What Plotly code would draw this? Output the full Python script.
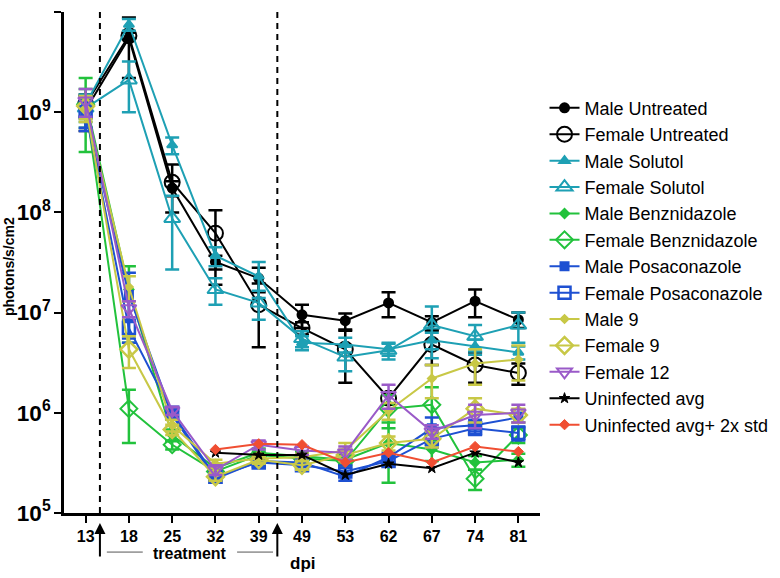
import plotly.graph_objects as go

dpi = ["13", "18", "25", "32", "39", "49", "53", "62", "67", "74", "81"]

male_untreated = [1.05e9, 5.5e9, 1.75e8, 3.2e7, 2.2e7, 9.5e6, 8.3e6, 1.25e7, 8.0e6, 1.3e7, 8.5e6]
male_untreated_sem = [4e8, 3.3e9, 3e7, 5e6, 6e6, 2.5e6, 1.5e6, 3.5e6, 1.2e6, 4e6, 1.5e6]
female_untreated = [1.2e9, 5.8e9, 2.0e8, 6.2e7, 1.2e7, 7e6, 4.3e6, 1.4e6, 4.8e6, 3.0e6, 2.5e6]
female_untreated_sem = [3e8, 4e8, 1e8, 4.3e7, 7.5e6, 1e6, 2.3e6, 2e5, 1.8e6, 1e6, 6e5]
male_solutol = [1.2e9, 7.5e9, 4.7e8, 3.7e7, 2.3e7, 5.0e6, 4.8e6, 4.3e6, 5.3e6, 4.6e6, 4.0e6]
male_solutol_sem = [3e8, 1e9, 9e7, 8e6, 9e6, 8e5, 8e5, 6e5, 1e6, 8e5, 6e5]
female_solutol = [1.1e9, 2.1e9, 8.7e7, 1.7e7, 1.25e7, 5.5e6, 3.6e6, 4.2e6, 7.5e6, 5.8e6, 7.5e6]
female_solutol_sem = [3e8, 1.1e9, 6e7, 5e6, 4e6, 1e6, 1e6, 8e5, 4e6, 1.7e6, 2.5e6]
male_benz = [1.3e9, 1.7e7, 6.0e5, 2.8e5, 4.0e5, 3.7e5, 3.4e5, 5e5, 4.3e5, 3.2e5, 3.4e5]
male_benz_sem = [9e8, 1.2e7, 8e4, 3e4, 4e4, 4e4, 4e4, 3e5, 1e5, 5e4, 5e4]
female_benz = [1.2e9, 1.1e6, 4.8e5, 2.6e5, 3.8e5, 3.5e5, 3.3e5, 1.1e6, 1.2e6, 2.2e5, 6.0e5]
female_benz_sem = [5e8, 6e5, 5e4, 3e4, 3e4, 3e4, 3e4, 4e5, 6e5, 5e4, 1e5]
male_posa = [9.5e8, 1.5e7, 9.5e5, 2.2e5, 3.3e5, 3.2e5, 2.3e5, 3.6e5, 7e5, 7.5e5, 9e5]
male_posa_sem = [3e8, 1e7, 1e5, 2e4, 3e4, 3e4, 2e4, 4e4, 2e5, 1e5, 1e5]
female_posa = [1.0e9, 7e6, 1.0e6, 2.3e5, 3.2e5, 3.0e5, 2.6e5, 3.3e5, 5.5e5, 7e5, 6.3e5]
female_posa_sem = [3e8, 1.5e6, 1e5, 2e4, 3e4, 3e4, 2e4, 3e4, 1e5, 1e5, 1e5]
male_9 = [1.1e9, 1.8e7, 7.5e5, 3.1e5, 3.5e5, 3.6e5, 4.2e5, 1.05e6, 2.2e6, 3.1e6, 3.4e6]
male_9_sem = [3e8, 5e6, 1e5, 3e4, 3e4, 3e4, 8e4, 2e5, 8e5, 1.2e6, 1.3e6]
female_9 = [1.15e9, 4.3e6, 6.8e5, 2.3e5, 3.4e5, 3.0e5, 3.8e5, 5e5, 5.5e5, 1.1e6, 9.5e5]
female_9_sem = [3e8, 1.5e6, 8e4, 2e4, 3e4, 3e4, 5e4, 8e4, 1e5, 3e5, 1.5e5]
female_12 = [1.3e9, 1.1e7, 1.05e6, 2.7e5, 4.8e5, 4.2e5, 4.0e5, 1.5e6, 6.5e5, 9.5e5, 1.0e6]
female_12_sem = [4e8, 2e6, 1e5, 3e4, 5e4, 4e4, 6e4, 4e5, 1e5, 2.5e5, 2e5]
uninfected_avg = [None, None, None, 4.0e5, 3.8e5, 3.8e5, 2.4e5, 3.1e5, 2.8e5, 4.0e5, 3.2e5]
uninfected_2std = [None, None, None, 4.3e5, 4.9e5, 4.8e5, 3.2e5, 4.0e5, 3.2e5, 4.6e5, 4.1e5]

BLACK = "#000000"
TEAL = "#1ea0b4"
GREEN = "#22c23c"
BLUE = "#1e50d2"
YELLOW = "#c8c846"
PURPLE = "#9a5ac8"
RED = "#f04e32"

series = [
    ("Male Untreated", male_untreated, male_untreated_sem, BLACK, "circle", 9, 2),
    ("Female Untreated", female_untreated, female_untreated_sem, BLACK, "circle-open", 15, 2),
    ("Male Solutol", male_solutol, male_solutol_sem, TEAL, "triangle-up", 9, 2),
    ("Female Solutol", female_solutol, female_solutol_sem, TEAL, "triangle-up-open", 14, 2),
    ("Male Benznidazole", male_benz, male_benz_sem, GREEN, "diamond", 7, 2),
    ("Female Benznidazole", female_benz, female_benz_sem, GREEN, "diamond-open", 13, 2),
    ("Male Posaconazole", male_posa, male_posa_sem, BLUE, "square", 8, 2),
    ("Female Posaconazole", female_posa, female_posa_sem, BLUE, "square-open", 12, 2.5),
    ("Male 9", male_9, male_9_sem, YELLOW, "diamond", 6, 2),
    ("Female 9", female_9, female_9_sem, YELLOW, "diamond-open", 13, 2.5),
    ("Female 12", female_12, female_12_sem, PURPLE, "triangle-down-open", 13, 2),
    ("Uninfected avg", uninfected_avg, None, BLACK, "star", 8, 1),
    ("Uninfected avg+ 2x std", uninfected_2std, None, RED, "diamond", 8, 1),
]

fig = go.Figure()
for i, (name, vals, sem, color, sym, size, mlw) in enumerate(series):
    err = None
    if sem is not None:
        err = dict(type="data", array=sem, visible=True, color=color,
                   thickness=2.5, width=7)
    fig.add_trace(go.Scatter(
        x=dpi, y=vals, name=name, mode="lines+markers",
        line=dict(color=color, width=2),
        marker=dict(symbol=sym, size=size, color=color,
                    line=dict(color=color, width=mlw)),
        error_y=err, legendgroup=f"g{i}",
    ))

# dashed treatment boundaries with arrows beneath
for xv in [0.33, 4.43]:
    fig.add_shape(type="line", xref="x", yref="paper", x0=xv, x1=xv,
                  y0=0, y1=1.006, line=dict(color="black", width=2, dash="6px,5px"))
    fig.add_annotation(xref="x", yref="paper", x=xv, y=-0.02, ax=0, ay=35,
                       showarrow=True, arrowhead=2, arrowsize=1.1,
                       arrowwidth=2, arrowcolor="black", text="")

fig.add_annotation(xref="x", yref="paper", x=2.41, y=-0.08, text="<b>treatment</b>",
                   xanchor="center", yanchor="middle", showarrow=False,
                   font=dict(family="Liberation Sans, Arial", size=16, color="black"))
for x0, x1 in [(0.49, 1.32), (3.5, 4.33)]:
    fig.add_shape(type="line", xref="x", yref="paper", x0=x0, x1=x1,
                  y0=-0.078, y1=-0.078, line=dict(color="#555555", width=1))
fig.add_annotation(xref="x", yref="paper", x=5.02, y=-0.1, text="<b>dpi</b>",
                   xanchor="center", yanchor="middle", showarrow=False,
                   font=dict(family="Liberation Sans, Arial", size=17, color="black"))

# y axis title
fig.add_annotation(xref="paper", yref="paper", x=-0.1155, y=0.491, text="<b>photons/s/cm2</b>",
                   textangle=-90, xanchor="center", yanchor="middle", showarrow=False,
                   font=dict(family="Liberation Sans, Arial", size=14, color="black"))

fig.update_layout(
    width=780, height=578,
    margin=dict(l=64, r=240, t=12, b=65, autoexpand=False),
    plot_bgcolor="white", paper_bgcolor="white",
    font=dict(family="Liberation Sans, Arial", color="black"),
    showlegend=True,
    legend=dict(x=1.0095, y=0.845, xanchor="left", yanchor="top",
                font=dict(size=18, color="black"), itemwidth=30,
                tracegroupgap=0, bgcolor="rgba(0,0,0,0)"),
    xaxis=dict(type="category", range=[-0.5, 10.5], showline=True, linecolor="black",
               linewidth=2.5, ticks="outside", ticklen=7, tickwidth=2, tickcolor="black",
               tickfont=dict(size=16, weight="bold"), showgrid=False, zeroline=False,
               automargin=False),
    yaxis=dict(type="log", range=[5, 10], showline=True, linecolor="black", linewidth=2.5,
               ticks="outside", ticklen=7, tickwidth=2, tickcolor="black", dtick=1,
               exponentformat="power", showexponent="all",
               tickfont=dict(size=18, weight="bold"), showgrid=False, zeroline=False,
               automargin=False),
)

# remove the browser's default 8px body margin so the figure sits at the page origin
fig.write_html("out.html", config={"displayModeBar": False},
               post_script="document.body.style.margin='0px';document.body.style.overflow='hidden';")
